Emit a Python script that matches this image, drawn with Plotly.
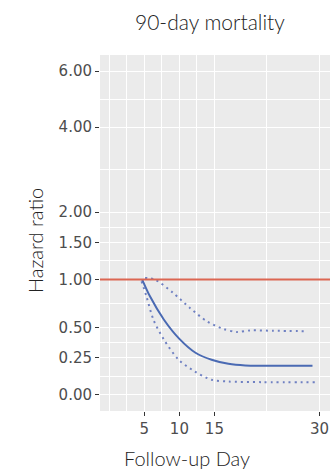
import numpy as np
import plotly.graph_objects as go

# ---- data ----
hr_ticks = [0.0, 0.25, 0.5, 1.0, 1.5, 2.0, 4.0, 6.0]
hr_tick_labels = ["0.00", "0.25", "0.50", "1.00", "1.50", "2.00", "4.00", "6.00"]
day_ticks = [5, 10, 15, 30]
day_tick_labels = ["5", "10", "15", "30"]
day_minor = [0, 2.5, 7.5, 12.5, 22.5]

est_day = [4.7, 5.8, 7.8, 10.0, 12.3, 14.6, 17.0, 19.4, 22.0, 29.0]
est_hr = [1.00, 0.808, 0.571, 0.40, 0.288, 0.235, 0.205, 0.193, 0.191, 0.191]

up_day = [5.1, 6.5, 9.1, 11.5, 13.96, 16.3, 18.2, 20.1, 23.4, 28.3]
up_hr = [1.02, 1.00, 0.846, 0.686, 0.555, 0.486, 0.459, 0.473, 0.470, 0.466]

lo_day = [4.6, 5.3, 6.3, 7.8, 9.9, 12.2, 14.6, 17.0, 21.8, 29.6]
lo_hr = [0.98, 0.808, 0.571, 0.393, 0.235, 0.151, 0.095, 0.0835, 0.0795, 0.0795]

ref_hr = 1.0

# log1p transform of the hazard-ratio axis
def tr(v):
    return np.log1p(np.asarray(v, dtype=float))

tick_t = tr(hr_ticks)
minor_t = list((tick_t[:-1] + tick_t[1:]) / 2)

blue = "#4A6AB3"
blue_dot = "#6F80C2"
red = "#DC6652"

fig = go.Figure()
fig.add_trace(go.Scatter(x=up_day, y=tr(up_hr), mode="lines",
                         line=dict(color=blue_dot, width=2, dash="2px,4px", shape="spline", smoothing=0.8),
                         hoverinfo="skip"))
fig.add_trace(go.Scatter(x=lo_day, y=tr(lo_hr), mode="lines",
                         line=dict(color=blue_dot, width=2, dash="2px,4px", shape="spline", smoothing=0.8),
                         hoverinfo="skip"))
fig.add_trace(go.Scatter(x=est_day, y=tr(est_hr), mode="lines",
                         line=dict(color=blue, width=2, shape="spline", smoothing=0.8),
                         hoverinfo="skip"))
fig.add_hline(y=float(tr([ref_hr])[0]), line=dict(color=red, width=2))

tick_font = dict(family="DejaVu Sans", size=15, color="#4D4D4D")
title_font = dict(family="Lato", size=20, color="#222222", weight=300)

fig.update_layout(
    width=332, height=473,
    margin=dict(l=100, r=2, t=55, b=62),
    paper_bgcolor="white",
    plot_bgcolor="#EBEBEB",
    showlegend=False,
    xaxis=dict(
        range=[-1.33, 31.5],
        tickmode="array", tickvals=day_ticks, ticktext=day_tick_labels,
        showgrid=True, gridcolor="white", gridwidth=1.4,
        zeroline=False, showline=False,
        ticks="outside", ticklen=4, tickwidth=1, tickcolor="#333333",
        tickfont=tick_font,
        minor=dict(tickmode="array", tickvals=day_minor, showgrid=True,
                   gridcolor="white", gridwidth=0.6, ticks=""),
    ),
    yaxis=dict(
        range=[-0.097, 2.043],
        tickmode="array", tickvals=list(tick_t), ticktext=hr_tick_labels,
        showgrid=True, gridcolor="white", gridwidth=1.4,
        zeroline=False, showline=False,
        ticks="outside", ticklen=4, tickwidth=1, tickcolor="#333333",
        tickfont=tick_font,
        minor=dict(tickmode="array", tickvals=minor_t, showgrid=True,
                   gridcolor="white", gridwidth=0.6, ticks=""),
    ),
    annotations=[
        dict(text="90-day mortality", xref="paper", yref="paper",
             x=(210 - 100) / 230, y=1 + (55 - 22) / 356, xanchor="center", yanchor="middle",
             showarrow=False, font=dict(family="Lato", size=21, color="#222222", weight=300)),
        dict(text="Hazard ratio", xref="paper", yref="paper",
             x=(35 - 100) / 230, y=(411 - 241) / 356, xanchor="center", yanchor="middle",
             textangle=-90, showarrow=False, font=title_font),
        dict(text="Follow-up Day", xref="paper", yref="paper",
             x=(187 - 100) / 230, y=-(458 - 411) / 356, xanchor="center", yanchor="middle",
             showarrow=False, font=title_font),
    ],
)

fig.write_html("out.html")
